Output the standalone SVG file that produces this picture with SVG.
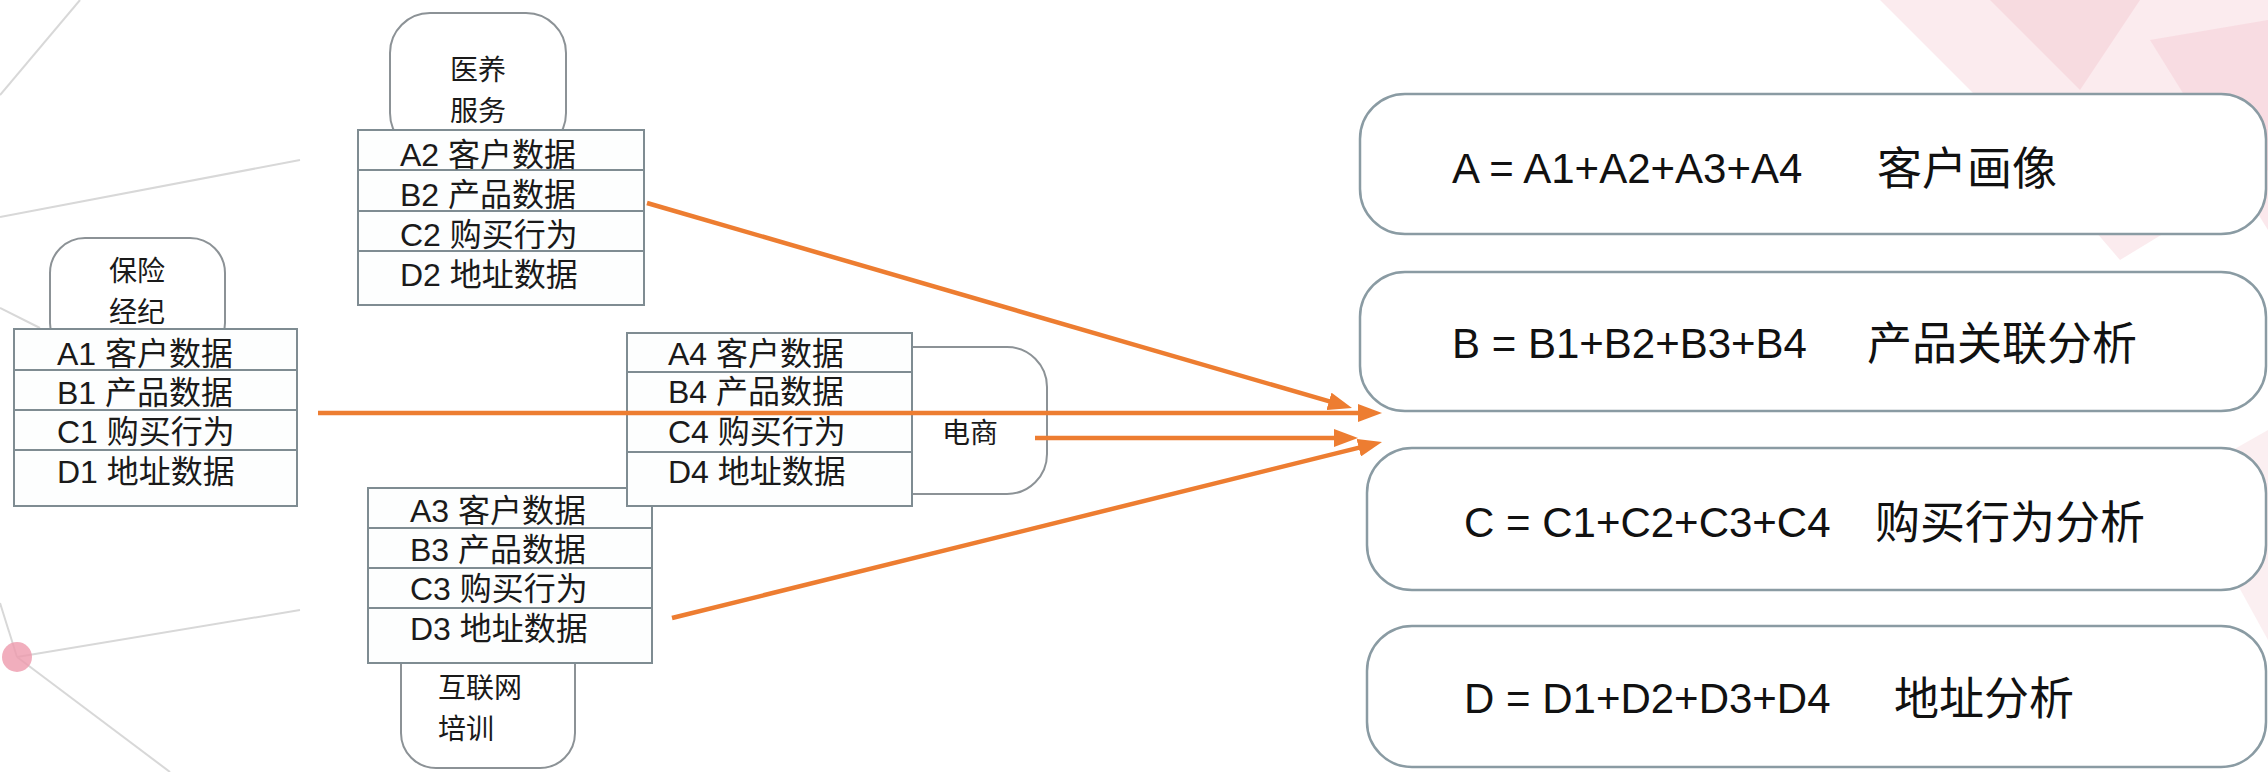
<svg xmlns="http://www.w3.org/2000/svg" width="2268" height="772" viewBox="0 0 2268 772">
<defs>
<style>
.tab{fill:#ffffff;stroke:#8c9296;stroke-width:2}
.tbl{fill:#fdfefe;stroke:#7f8c92;stroke-width:2}
.row{stroke:#7f8c92;stroke-width:2}
.box{fill:#ffffff;stroke:#8a9ba3;stroke-width:2.5}
.t{font-family:"Liberation Sans","Noto Sans CJK SC",sans-serif;font-size:32px;fill:#1a1a1a}
.tt{font-family:"Noto Sans CJK SC",sans-serif;font-size:28px;fill:#1a1a1a}
.bl{font-family:"Liberation Sans","Noto Sans CJK SC",sans-serif;font-size:42px;fill:#111111}
.bc{font-family:"Noto Sans CJK SC",sans-serif;font-size:45px;fill:#111111}
.arr{stroke:#ED7D31;stroke-width:4.5;fill:none}
.deco{stroke:#d8d8d8;stroke-width:2;fill:none}
</style>
<marker id="ah" viewBox="0 0 24 18" refX="14" refY="9" markerWidth="24" markerHeight="18" markerUnits="userSpaceOnUse" orient="auto">
<path d="M0,0 L24,9 L0,18 z" fill="#ED7D31"/>
</marker>
</defs>
<rect x="0" y="0" width="2268" height="772" fill="#ffffff"/>
<g id="background">
<polygon points="1880,0 2268,0 2268,170 2120,260 2000,120" fill="#f7d3da" opacity="0.45"/>
<polygon points="1990,0 2140,0 2080,90" fill="#f2bcc7" opacity="0.35"/>
<polygon points="2150,40 2268,20 2268,230" fill="#f4c6cf" opacity="0.4"/>
<polygon points="2180,480 2268,430 2268,640" fill="#f6d6dc" opacity="0.4"/>
<line class="deco" x1="0" y1="95" x2="80" y2="0"/>
<line class="deco" x1="0" y1="217" x2="300" y2="160"/>
<line class="deco" x1="0" y1="308" x2="40" y2="328"/>
<line class="deco" x1="0" y1="603" x2="17" y2="657"/>
<line class="deco" x1="17" y1="657" x2="300" y2="610"/>
<line class="deco" x1="17" y1="657" x2="170" y2="772"/>
<circle cx="17" cy="657" r="15" fill="#ee9aac" opacity="0.8"/>
</g>
<g id="node-baoxian">
<rect class="tab" x="50" y="238" width="175" height="120" rx="35"/>
<text class="tt" x="137" y="281" text-anchor="middle">保险</text>
<text class="tt" x="137" y="322" text-anchor="middle">经纪</text>
<rect class="tbl" x="14" y="329" width="283" height="177"/>
<line class="row" x1="14" y1="370" x2="297" y2="370"/>
<line class="row" x1="14" y1="410" x2="297" y2="410"/>
<line class="row" x1="14" y1="450" x2="297" y2="450"/>
<text class="t" x="57" y="365">A1 客户数据</text>
<text class="t" x="57" y="404">B1 产品数据</text>
<text class="t" x="57" y="443">C1 购买行为</text>
<text class="t" x="57" y="483">D1 地址数据</text>
</g>
<g id="node-yiyang">
<rect class="tab" x="390" y="13" width="176" height="140" rx="40"/>
<text class="tt" x="478" y="80" text-anchor="middle">医养</text>
<text class="tt" x="478" y="121" text-anchor="middle">服务</text>
<rect class="tbl" x="358" y="130" width="286" height="175"/>
<line class="row" x1="358" y1="170" x2="644" y2="170"/>
<line class="row" x1="358" y1="211" x2="644" y2="211"/>
<line class="row" x1="358" y1="251" x2="644" y2="251"/>
<text class="t" x="400" y="166">A2 客户数据</text>
<text class="t" x="400" y="206">B2 产品数据</text>
<text class="t" x="400" y="246">C2 购买行为</text>
<text class="t" x="400" y="286">D2 地址数据</text>
</g>
<g id="node-hulianwang">
<rect class="tab" x="401" y="600" width="174" height="168" rx="35"/>
<text class="tt" x="438" y="698">互联网</text>
<text class="tt" x="438" y="739">培训</text>
<rect class="tbl" x="368" y="488" width="284" height="175"/>
<line class="row" x1="368" y1="528" x2="652" y2="528"/>
<line class="row" x1="368" y1="568" x2="652" y2="568"/>
<line class="row" x1="368" y1="608" x2="652" y2="608"/>
<text class="t" x="410" y="522">A3 客户数据</text>
<text class="t" x="410" y="561">B3 产品数据</text>
<text class="t" x="410" y="600">C3 购买行为</text>
<text class="t" x="410" y="640">D3 地址数据</text>
</g>
<g id="node-dianshang">
<rect class="tab" x="850" y="347" width="197" height="147" rx="40"/>
<text class="tt" x="970" y="443" text-anchor="middle">电商</text>
<rect class="tbl" x="627" y="333" width="285" height="173"/>
<line class="row" x1="627" y1="372" x2="912" y2="372"/>
<line class="row" x1="627" y1="412" x2="912" y2="412"/>
<line class="row" x1="627" y1="452" x2="912" y2="452"/>
<text class="t" x="668" y="365">A4 客户数据</text>
<text class="t" x="668" y="403">B4 产品数据</text>
<text class="t" x="668" y="443">C4 购买行为</text>
<text class="t" x="668" y="483">D4 地址数据</text>
</g>
<g id="node-A">
<rect class="box" x="1360" y="94" width="906" height="140" rx="45"/>
<text class="bl" x="1452" y="183">A = A1+A2+A3+A4</text>
<text class="bc" x="1877" y="185">客户画像</text>
</g>
<g id="node-B">
<rect class="box" x="1360" y="272" width="906" height="139" rx="45"/>
<text class="bl" x="1452" y="358">B = B1+B2+B3+B4</text>
<text class="bc" x="1867" y="360">产品关联分析</text>
</g>
<g id="node-C">
<rect class="box" x="1367" y="448" width="899" height="142" rx="45"/>
<text class="bl" x="1464" y="537">C = C1+C2+C3+C4</text>
<text class="bc" x="1875" y="539">购买行为分析</text>
</g>
<g id="node-D">
<rect class="box" x="1367" y="626" width="899" height="141" rx="45"/>
<text class="bl" x="1464" y="713">D = D1+D2+D3+D4</text>
<text class="bc" x="1894" y="715">地址分析</text>
</g>
<g id="connectors">
<line class="arr" x1="647" y1="203" x2="1342.4" y2="405.2" marker-end="url(#ah)"/>
<line class="arr" x1="318" y1="413" x2="1372" y2="413" marker-end="url(#ah)"/>
<line class="arr" x1="1035" y1="438" x2="1348" y2="438" marker-end="url(#ah)"/>
<line class="arr" x1="672" y1="618" x2="1372.3" y2="444.4" marker-end="url(#ah)"/>
</g>
</svg>
